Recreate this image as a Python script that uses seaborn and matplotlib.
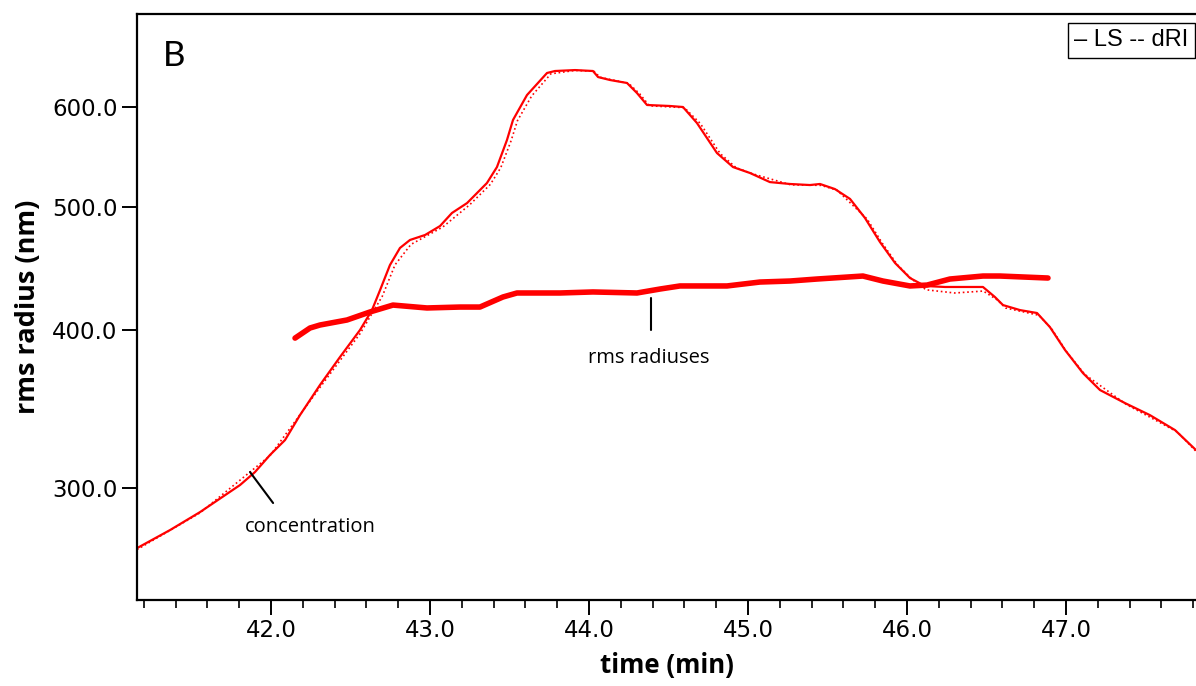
import matplotlib
matplotlib.use("Agg")
import matplotlib.pyplot as plt
import matplotlib.ticker as mticker
import numpy as np
import pandas as pd
import seaborn as sns

# ---------------- data ----------------
ls_time = [41.157, 41.365, 41.553, 41.805, 41.899, 41.994, 42.088, 42.182, 42.308, 42.434,
           42.560, 42.635, 42.686, 42.748, 42.811, 42.874, 42.969, 43.063, 43.138, 43.233,
           43.358, 43.421, 43.484, 43.522, 43.610, 43.736, 43.786, 43.912, 44.025, 44.057,
           44.132, 44.239, 44.302, 44.365, 44.509, 44.591, 44.679, 44.805, 44.906, 45.013,
           45.138, 45.264, 45.390, 45.453, 45.547, 45.642, 45.736, 45.830, 45.925, 46.019,
           46.113, 46.239, 46.365, 46.478, 46.553, 46.604, 46.711, 46.818, 46.899, 46.994,
           47.107, 47.214, 47.371, 47.528, 47.686, 47.818]
ls_radius = [268.7, 277.7, 286.9, 301.4, 308.6, 318.4, 327.1, 342.3, 361.6, 380.5,
             399.7, 414.4, 429.8, 449.8, 464.0, 470.8, 475.1, 482.9, 494.5, 503.5,
             522.2, 537.6, 564.7, 585.7, 612.9, 638.0, 640.3, 641.4, 640.3, 633.3,
             629.9, 626.5, 615.1, 601.9, 600.8, 599.7, 582.5, 551.5, 537.6, 531.8,
             523.1, 521.3, 520.3, 521.3, 516.5, 507.3, 490.0, 469.1, 451.5, 439.3,
             433.0, 432.2, 432.2, 432.2, 424.4, 418.2, 414.4, 412.2, 401.8, 385.4,
             369.5, 358.3, 349.9, 342.3, 333.1, 321.2]

dri_time = [41.157, 41.553, 41.994, 42.308, 42.560, 42.700, 42.780, 42.880, 43.080, 43.250,
            43.380, 43.445, 43.510, 43.550, 43.640, 43.760, 43.912, 44.030, 44.070, 44.250,
            44.320, 44.380, 44.600, 44.700, 44.825, 44.925, 45.030, 45.270, 45.460, 45.560,
            45.750, 45.845, 45.940, 46.030, 46.120, 46.300, 46.480, 46.570, 46.620, 46.830,
            46.910, 47.005, 47.120, 47.380, 47.700, 47.818]
dri_radius = [268.0, 286.5, 318.0, 360.0, 397.0, 425.0, 450.0, 467.0, 482.0, 502.0,
              521.0, 537.0, 564.0, 585.0, 612.0, 637.0, 641.0, 640.0, 633.0, 626.0,
              614.0, 601.0, 599.0, 582.0, 551.0, 537.0, 531.0, 520.5, 520.0, 515.5,
              489.0, 468.0, 450.0, 438.5, 430.0, 427.5, 429.0, 422.0, 416.0, 410.5,
              400.5, 384.0, 368.5, 349.0, 332.0, 320.5]

rms_time = [42.151, 42.245, 42.308, 42.478, 42.623, 42.767, 42.981, 43.189, 43.314, 43.459,
            43.547, 43.818, 44.025, 44.302, 44.447, 44.572, 44.868, 45.075, 45.264, 45.434,
            45.723, 45.849, 46.019, 46.126, 46.270, 46.478, 46.585, 46.887]
rms_radius = [393.8, 401.1, 403.3, 407.0, 413.0, 418.2, 416.0, 416.7, 416.7, 424.4,
              427.5, 427.5, 428.3, 427.5, 430.6, 433.0, 433.0, 436.1, 436.9, 438.5,
              440.9, 436.9, 433.0, 433.7, 438.5, 440.9, 440.9, 439.3]

y_ticks = [300, 400, 500, 600]
x_ticks = [42.0, 43.0, 44.0, 45.0, 46.0, 47.0]

panel_letter = "B"
legend_text = "\u2013 LS -- dRI"
x_label = "time (min)"
y_label = "rms radius (nm)"

# ---------------- plot ----------------
sns.set_theme(style="ticks")
plt.rcParams["font.family"] = ["DejaVu Sans"]
plt.rcParams["text.color"] = "black"
plt.rcParams["axes.labelcolor"] = "black"
plt.rcParams["xtick.color"] = "black"
plt.rcParams["ytick.color"] = "black"

fig = plt.figure(figsize=(11.96, 6.86), dpi=100)
ax = fig.add_axes([137 / 1196, 1 - 600 / 686, 1 - 137 / 1196, (600 - 14) / 686])

red = "#ff0000"
df_ls = pd.DataFrame({"time": ls_time, "radius": ls_radius})
df_dri = pd.DataFrame({"time": dri_time, "radius": dri_radius})
df_rms = pd.DataFrame({"time": rms_time, "radius": rms_radius})

sns.lineplot(data=df_dri, x="time", y="radius", ax=ax, color=red, lw=1.2,
             linestyle=":", estimator=None, sort=False)
sns.lineplot(data=df_ls, x="time", y="radius", ax=ax, color=red, lw=1.6,
             estimator=None, sort=False)
sns.lineplot(data=df_rms, x="time", y="radius", ax=ax, color=red, lw=4.0,
             estimator=None, sort=False)

ax.set_yscale("log")
ax.set_xlim(41.157, 47.818)
ax.set_ylim(244.5, 710.3)

ax.yaxis.set_major_locator(mticker.FixedLocator(y_ticks))
ax.yaxis.set_major_formatter(mticker.FormatStrFormatter("%.1f"))
ax.yaxis.set_minor_locator(mticker.NullLocator())
ax.xaxis.set_major_locator(mticker.FixedLocator(x_ticks))
ax.xaxis.set_major_formatter(mticker.FormatStrFormatter("%.1f"))
ax.xaxis.set_minor_locator(mticker.MultipleLocator(0.2))

ax.tick_params(axis="both", which="major", direction="out", length=11, width=1.4,
               labelsize=16.5, color="black", labelcolor="black", pad=3)
ax.tick_params(axis="x", which="minor", direction="out", length=6, width=1.2, color="black")

for s in ["left", "bottom", "top"]:
    ax.spines[s].set_linewidth(1.6)
    ax.spines[s].set_color("black")
ax.spines["right"].set_visible(False)

ax.set_xlabel(x_label, fontsize=18.5, fontweight="bold", family=["Open Sans", "DejaVu Sans"],
              labelpad=7, color="black")
ax.set_ylabel(y_label, fontsize=19.5, fontweight="bold", family=["Open Sans", "DejaVu Sans"],
              labelpad=8, color="black")

ax.text(0.024, 0.929, panel_letter, transform=ax.transAxes, fontsize=25,
        family=["Lato", "DejaVu Sans"], va="center", ha="left", color="black")

ax.text(0.993, 0.955, legend_text, transform=ax.transAxes, fontsize=17,
        family=["Liberation Sans", "DejaVu Sans"], ha="right", va="center", color="black",
        bbox=dict(boxstyle="square,pad=0.28", fc="white", ec="black", lw=1.0))

# annotations
ax.plot([41.868, 42.013], [308.6, 291.7], color="black", lw=1.5)
ax.text(42.245, 279.2, "concentration", fontsize=14.5, family=["Open Sans", "DejaVu Sans"],
        ha="center", va="center", color="black")
ax.plot([44.390, 44.390], [423.6, 399.7], color="black", lw=1.5)
ax.text(44.377, 379.8, "rms radiuses", fontsize=14.5, family=["Open Sans", "DejaVu Sans"],
        ha="center", va="center", color="black")

fig.savefig("out.png", dpi=100)
